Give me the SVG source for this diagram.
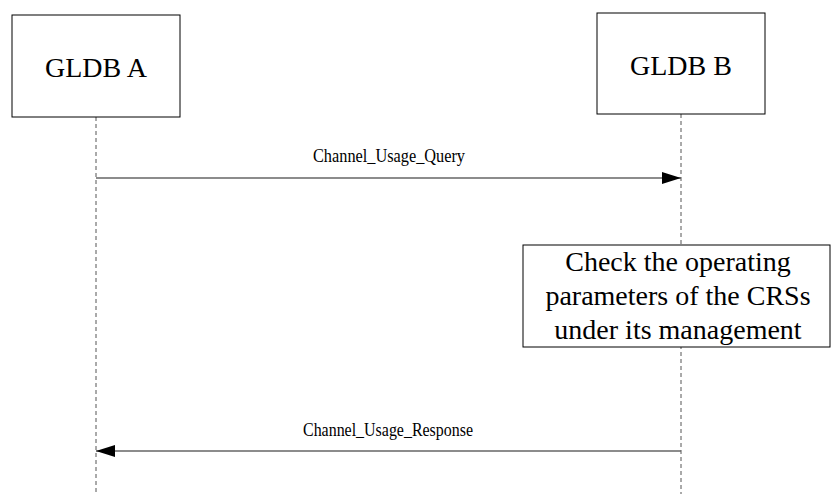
<svg xmlns="http://www.w3.org/2000/svg" width="831" height="494" viewBox="0 0 831 494">
<style>
.box{fill:#fff;stroke:#000;stroke-width:1}
.life{stroke:#555;stroke-width:1;stroke-dasharray:4,3}
.msg{stroke:#666;stroke-width:1.5;fill:none}
.t1{font-size:28px}
.t2{font-size:18px}
.t3{font-size:28px}
</style>
<defs>
<marker id="ah" markerWidth="19" markerHeight="12" refX="19" refY="6" orient="auto" markerUnits="userSpaceOnUse">
<path d="M0,0 L19,6 L0,12 Z" fill="#000"/>
</marker>
</defs>
<g font-family="Liberation Serif, Times New Roman, Times, serif" fill="#000">
<g id="lifelines">
<line class="life" x1="96" y1="117" x2="96" y2="494"/>
<line class="life" x1="681" y1="114" x2="681" y2="494"/>
</g>
<g id="gldbA">
<rect class="box" x="12" y="15" width="168" height="102"/>
<text class="t1" x="96" y="77" text-anchor="middle">GLDB A</text>
</g>
<g id="gldbB">
<rect class="box" x="597" y="13" width="168" height="101"/>
<text class="t1" x="681" y="75" text-anchor="middle">GLDB B</text>
</g>
<g id="check">
<rect class="box" x="523" y="245" width="307" height="102"/>
<text class="t3" x="678" y="271" text-anchor="middle">Check the operating</text>
<text class="t3" x="678" y="305" text-anchor="middle">parameters of the CRSs</text>
<text class="t3" x="678" y="339" text-anchor="middle">under its management</text>
</g>
<g id="connectors">
<line class="msg" x1="96" y1="178" x2="681" y2="178" marker-end="url(#ah)"/>
<text class="t2" x="313" y="162" textLength="152" lengthAdjust="spacingAndGlyphs">Channel_Usage_Query</text>
<line class="msg" x1="681" y1="451" x2="96" y2="451" marker-end="url(#ah)"/>
<text class="t2" x="303" y="436" textLength="170" lengthAdjust="spacingAndGlyphs">Channel_Usage_Response</text>
</g>
</g>
</svg>
